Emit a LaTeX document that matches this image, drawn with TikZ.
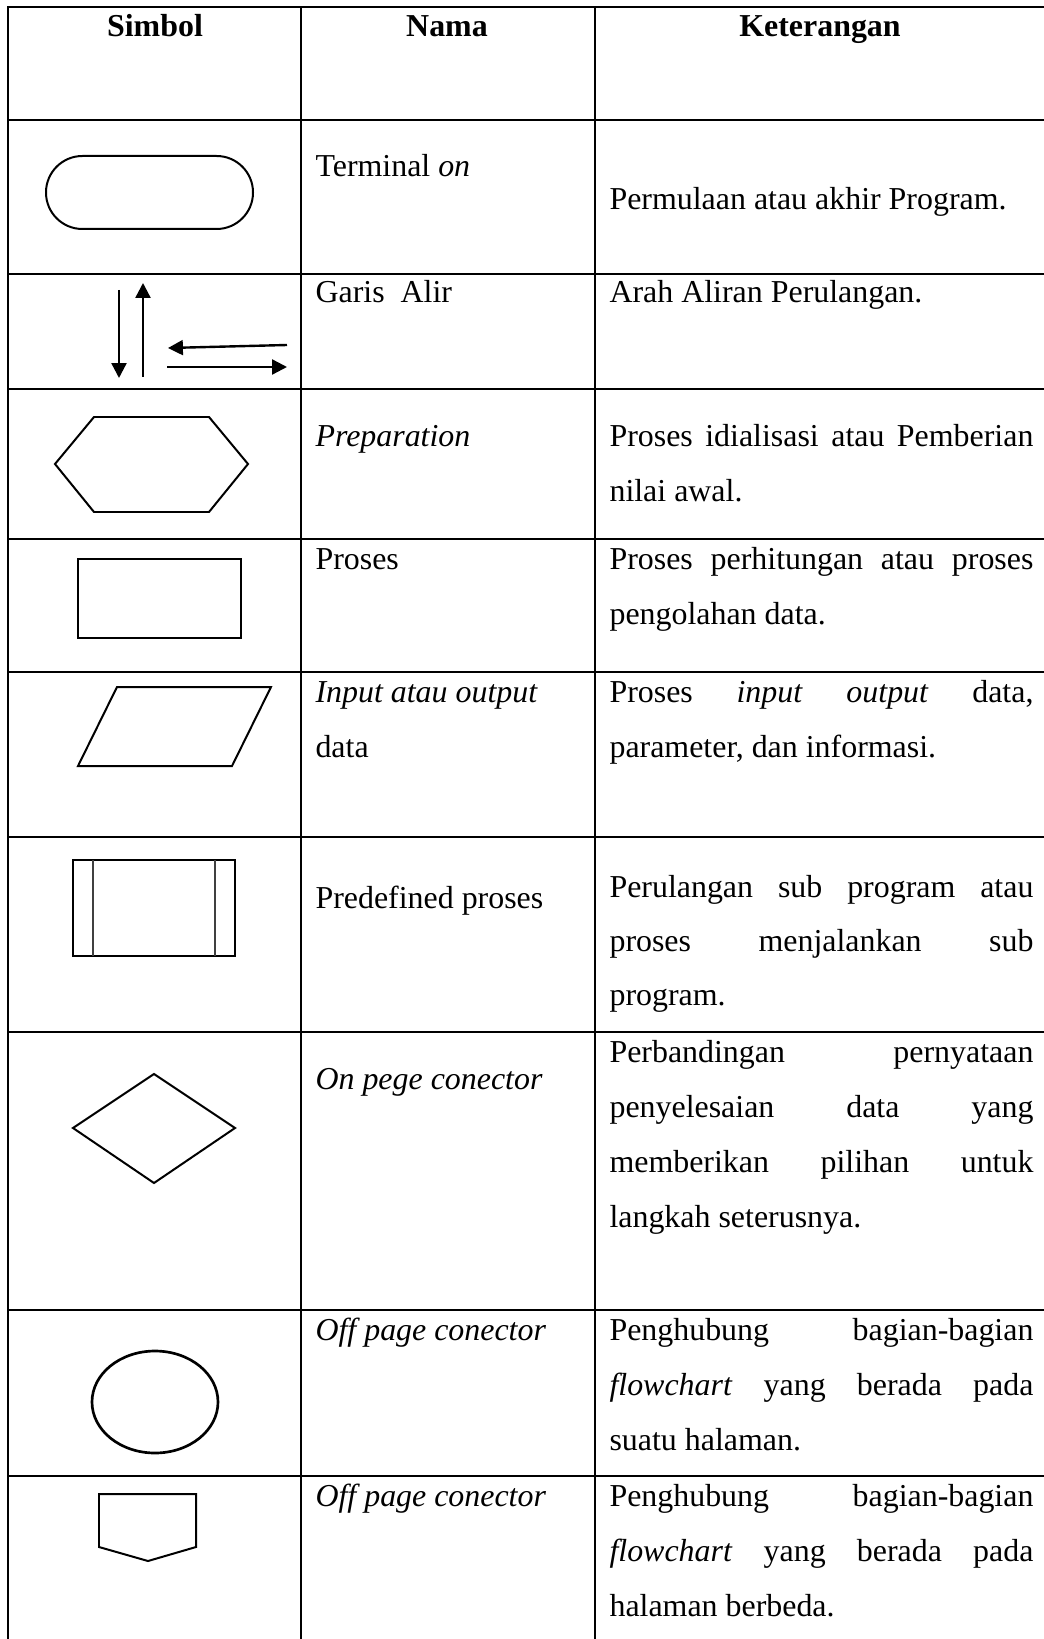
\documentclass[tikz,border=0pt]{standalone}
\usepackage{fontspec}
\setmainfont{Liberation Serif}
\usetikzlibrary{arrows.meta}
\newcommand{\jl}[1]{\makebox[159.4pt][s]{#1}}
\tikzset{
  grid/.style={line width=0.9pt},
  sym/.style={line width=0.75pt},
  flow/.style={line width=0.9pt,-{Triangle[length=5.6pt,width=5.6pt]}},
  txt/.style={anchor=base west,inner sep=0pt,font=\fontsize{12pt}{14pt}\selectfont},
  head/.style={anchor=base,inner sep=0pt,font=\fontsize{12pt}{14pt}\selectfont\bfseries}
}
\begin{document}
\begin{tikzpicture}[x=0.376pt,y=-0.376pt]
\useasboundingbox (0,0) rectangle (1043,1639);
\draw[grid] (8,7) rectangle (1050,1645);
\foreach \y in {120,274,389,539,672,837,1032,1310,1476} \draw[grid] (8,\y) -- (1050,\y);
\foreach \x in {301,595} \draw[grid] (\x,7) -- (\x,1645);
\node[head] (simbol) at (155,37) {Simbol};
\node[head] (nama) at (447,37) {Nama};
\node[head] (ket) at (820,37) {Keterangan};
% simbol
\draw[sym,rounded corners=13.7pt] (46,156) rectangle (253,229);
\draw[flow] (119,290) -- (119,378);
\draw[flow] (143,377) -- (143,283);
\draw[flow] (287,345) -- (168,348);
\draw[flow] (167,367) -- (287,367);
\draw[sym] (94,417) -- (209,417) -- (248,464) -- (209,512) -- (94,512) -- (55,464) -- cycle;
\draw[sym] (78,559) rectangle (241,638);
\draw[sym] (117,687) -- (271,687) -- (232,766) -- (78,766) -- cycle;
\draw[sym] (73,860) rectangle (235,956);
\draw[sym,black!75] (93,860) -- (93,956) (215,860) -- (215,956);
\draw[sym] (154,1074) -- (235,1128) -- (154,1183) -- (73,1128) -- cycle;
\draw[sym,line width=1pt] (155,1402) ellipse [x radius=63,y radius=51];
\draw[sym] (99,1494) -- (196,1494) -- (196,1547) -- (148,1561) -- (99,1547) -- cycle;
% nama
\foreach \y/\t [count=\i] in {177/{Terminal \textit{on}}, 303/{Garis~ Alir},
  446/{\textit{Preparation}}, 569/{Proses}, 702/{\textit{Input atau output}}, 757/{data},
  908/{Predefined proses}, 1089/{\textit{On pege conector}},
  1340/{\textit{Off page conector}}, 1506/{\textit{Off page conector}}}
  \node[txt] (n\i) at (315,\y) {\t};
% keterangan
\foreach \y/\t [count=\i] in {210/{Permulaan atau akhir Program.}, 303/{Arah Aliran Perulangan.},
  446/{\jl{Proses idialisasi atau Pemberian}}, 501/{nilai awal.},
  569/{\jl{Proses perhitungan atau proses}}, 624/{pengolahan data.},
  702/{\jl{Proses \textit{input} \textit{output} data,}}, 757/{parameter, dan informasi.},
  897/{\jl{Perulangan sub program atau}}, 951/{\jl{proses menjalankan sub}}, 1005/{program.},
  1062/{\jl{Perbandingan pernyataan}}, 1117/{\jl{penyelesaian data yang}},
  1172/{\jl{memberikan pilihan untuk}}, 1227/{langkah seterusnya.},
  1340/{\jl{Penghubung bagian-bagian}}, 1395/{\jl{\textit{flowchart} yang berada pada}}, 1450/{suatu halaman.},
  1506/{\jl{Penghubung bagian-bagian}}, 1561/{\jl{\textit{flowchart} yang berada pada}}, 1616/{halaman berbeda.}}
  \node[txt] (k\i) at (609,\y) {\t};
\end{tikzpicture}
\end{document}
